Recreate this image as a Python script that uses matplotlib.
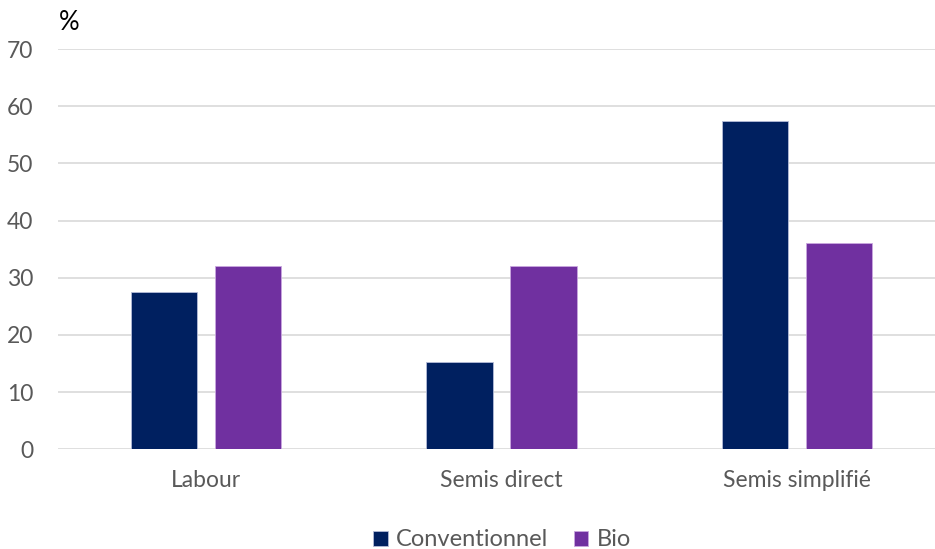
import matplotlib
matplotlib.use("Agg")
import matplotlib.pyplot as plt
import numpy as np

categories = ["Labour", "Semis direct", "Semis simplifié"]
conventionnel = [27.5, 15.2, 57.4]
bio = [32.1, 32.1, 36.1]
yticks = [0, 10, 20, 30, 40, 50, 60, 70]

plt.rcParams['font.family'] = ['Lato', 'DejaVu Sans']

W, H = 935, 549
fig = plt.figure(figsize=(W / 100, H / 100), dpi=100)
left, right, bottom, top = 58.5, 944.5, 449.3, 49.0
ax = fig.add_axes([left / W, 1 - bottom / H, (right - left) / W, (bottom - top) / H])

x = np.arange(len(categories))
w = 0.2245
off = 0.1427
ax.bar(x - off, conventionnel, width=w, color="#002060", edgecolor="#b4bcd8",
       linewidth=0.6, label="Conventionnel", zorder=3)
ax.bar(x + off, bio, width=w, color="#7030a0", edgecolor="#c9a7df",
       linewidth=0.6, label="Bio", zorder=3)

ax.set_xlim(-0.5, 2.5)
ax.set_ylim(0, 70)
ax.set_yticks(yticks)
ax.set_yticklabels([str(t) for t in yticks], fontsize=16.5, color="#595959")
ax.set_xticks(x)
ax.set_xticklabels(categories, fontsize=16.5, color="#595959")
ax.tick_params(axis="both", length=0)
ax.tick_params(axis="y", pad=18)
ax.tick_params(axis="x", pad=15)
ax.grid(axis="y", color="#d9d9d9", linewidth=1.2, zorder=0)
for s in ax.spines.values():
    s.set_visible(False)

fig.text(59 / W, 1 - 23 / H, "%", fontsize=18.5, color="black", va="center", ha="left")

fig.legend(loc="center", bbox_to_anchor=(502 / W, 1 - 540 / H), ncol=2, frameon=False,
           fontsize=17, handlelength=0.6, handleheight=0.6, handletextpad=0.35,
           columnspacing=1.1, labelcolor="#595959")

fig.savefig("out.png", dpi=100)
